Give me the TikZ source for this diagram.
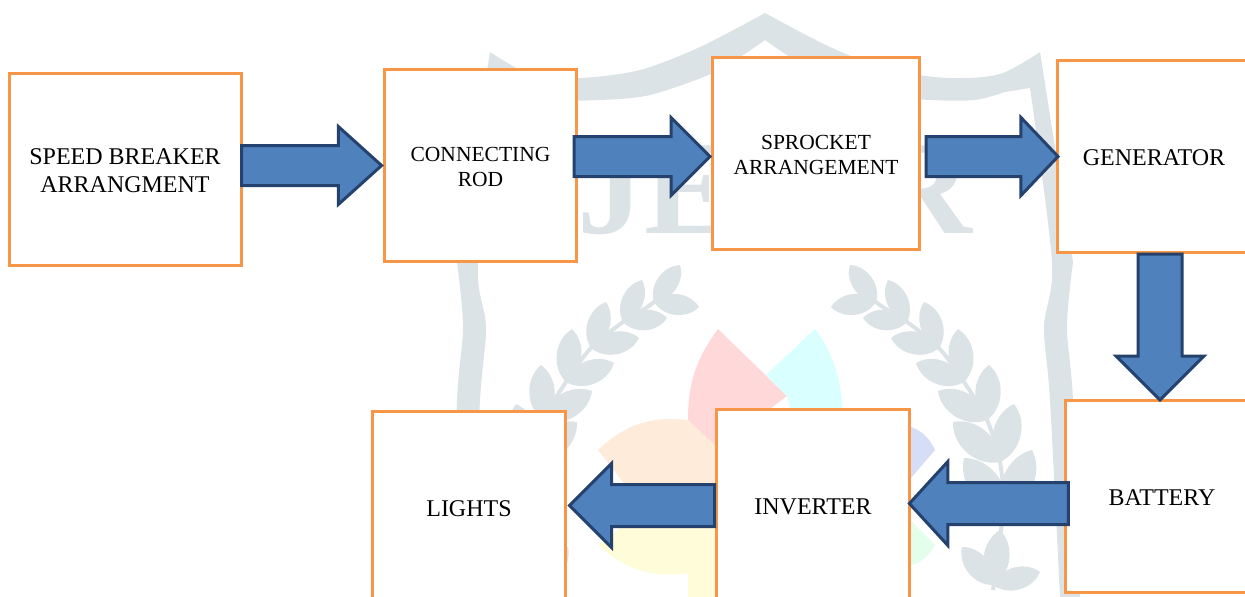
\documentclass[tikz,border=0pt]{standalone}
\usepackage{fontspec}
\setmainfont{Liberation Serif}
\usetikzlibrary{shapes.arrows}
\definecolor{wm}{HTML}{DCE3E7}
\definecolor{boxline}{HTML}{F79646}
\definecolor{arrowfill}{HTML}{4F81BD}
\definecolor{arrowline}{HTML}{24426D}
\definecolor{petalred}{HTML}{FFD9D9}
\definecolor{petalcyan}{HTML}{D9FFFF}
\definecolor{petalpeach}{HTML}{FFEBD9}
\definecolor{petalyellow}{HTML}{FFFCD9}
\definecolor{petalblue}{HTML}{D6DDF7}
\definecolor{petalgreen}{HTML}{E3FFEC}
\tikzset{box/.style = {draw=boxline, line width=3pt, fill=white, minimum width=193pt, minimum height=192pt, inner sep=0pt, align=center, font=\fontsize{24}{28}\selectfont, execute at begin node=\rule{0pt}{19pt}},
    twolines/.style = {execute at begin node=\rule{0pt}{47.5pt}},
    smalltext/.style = {font=\fontsize{21.5}{25}\selectfont, execute at begin node=\rule{0pt}{42.5pt}},
    barrow/.style = {single arrow, draw=arrowline, line width=3pt, fill=arrowfill, inner xsep=0pt, inner ysep=18.5pt, single arrow head extend=19pt},
    leaf/.style = {fill=wm}}
\newcommand{\crestside}{
    \fill[wm] plot[smooth] coordinates {(765,13) (700,47) (640,70) (580,78) (530,74) (490,52)}
        -- plot[smooth] coordinates {(457,262) (463,327) (457,400) (450,597)}
        -- plot[smooth] coordinates {(470,597) (480,400) (486,327) (478,262) (500,88)}
        -- plot[smooth] coordinates {(525,92) (555,100) (600,100) (650,95) (715,72) (765,40)} -- cycle;
    \foreach \bx/\by/\tx/\ty in {654/302/680/265, 654/302/699/307, 623/322/642/280, 623/322/667/318, 591/348/606/302, 591/348/639/338, 566/382/572/329, 566/382/614/363, 543/420/541/365, 543/420/592/391, 530/462/516/404, 530/462/577/422, 525/510/498/450, 525/510/566/458, 537/585/530/530, 537/585/568/547, 537/585/490/572}
        \fill[leaf] (\bx,\by) to[bend left=52] (\tx,\ty) to[bend left=52] (\bx,\by);
    \draw[wm, line width=4pt] plot[smooth] coordinates {(680,272) (654,302) (623,322) (591,348) (566,382) (543,420) (530,462) (527,510) (537,590)};
}
\begin{document}
\begin{tikzpicture}[x=1pt, y=-1pt]
    \useasboundingbox (0,0) rectangle (1245,597);
    % watermark
    \node[text=wm, inner sep=0pt, anchor=base, font=\bfseries\fontsize{134}{134}\selectfont] (mark) at (775,233) {JETIR};
    \crestside
    \begin{scope}[xshift=1530pt, xscale=-1]
        \crestside
    \end{scope}
    \fill[fill=petalred] (718,329) .. controls (695,360) and (688,385) .. (688,420) -- (716,450) -- (787,396) -- cycle;
    \fill[fill=petalcyan] (815,329) .. controls (835,355) and (844,385) .. (844,440) -- (800,440) -- (787,396) -- (766,375) -- cycle;
    \fill[fill=petalpeach] (688,420) to[bend right=25] (598,450) -- (629,490) -- (720,490) -- (720,450) -- cycle;
    \fill[fill=petalyellow] (598,545) to[bend right=25] (688,573) -- (688,597) -- (720,597) -- (720,520) -- (630,520) -- cycle;
    \fill[fill=petalblue] (905,425) to[bend left=25] (935,450) -- (905,485) -- cycle;
    \fill[fill=petalgreen] (905,515) -- (935,545) to[bend left=25] (905,567) -- cycle;

    % blocks
    \node[box, twolines, minimum width=232pt] (breaker) at (125,169) {SPEED BREAKER\\ARRANGMENT};
    \node[box, smalltext, minimum width=192pt] (rod) at (480.5,165) {CONNECTING\\ROD};
    \node[box, smalltext, minimum width=207pt] (sprocket) at (816,153) {SPROCKET\\ARRANGEMENT};
    \node[box] (generator) at (1154,156) {GENERATOR};
    \node[box] (battery) at (1162,496) {BATTERY};
    \node[box] (inverter) at (813,505) {INVERTER};
    \node[box] (lights) at (469,507) {LIGHTS};

    % arrows
    \node[barrow, minimum height=140pt, single arrow tip angle=84] (a) at (300.5,165.5) {};
    \node[barrow, minimum height=136pt, single arrow tip angle=90] (b) at (632,156.5) {};
    \node[barrow, minimum height=132pt, single arrow tip angle=93] (c) at (982.5,156.5) {};
    \node[barrow, minimum height=146pt, inner xsep=20.5pt, inner ysep=0pt, single arrow head extend=22pt, shape border rotate=270] (d) at (1160,316) {};
    \node[barrow, minimum height=159pt, inner ysep=19.5pt, single arrow head extend=21pt, single arrow tip angle=95, shape border rotate=180] (e) at (998.5,503.5) {};
    \node[barrow, minimum height=145pt, inner ysep=19.5pt, single arrow head extend=21pt, shape border rotate=180] (f) at (652.5,505.5) {};
\end{tikzpicture}
\end{document}
